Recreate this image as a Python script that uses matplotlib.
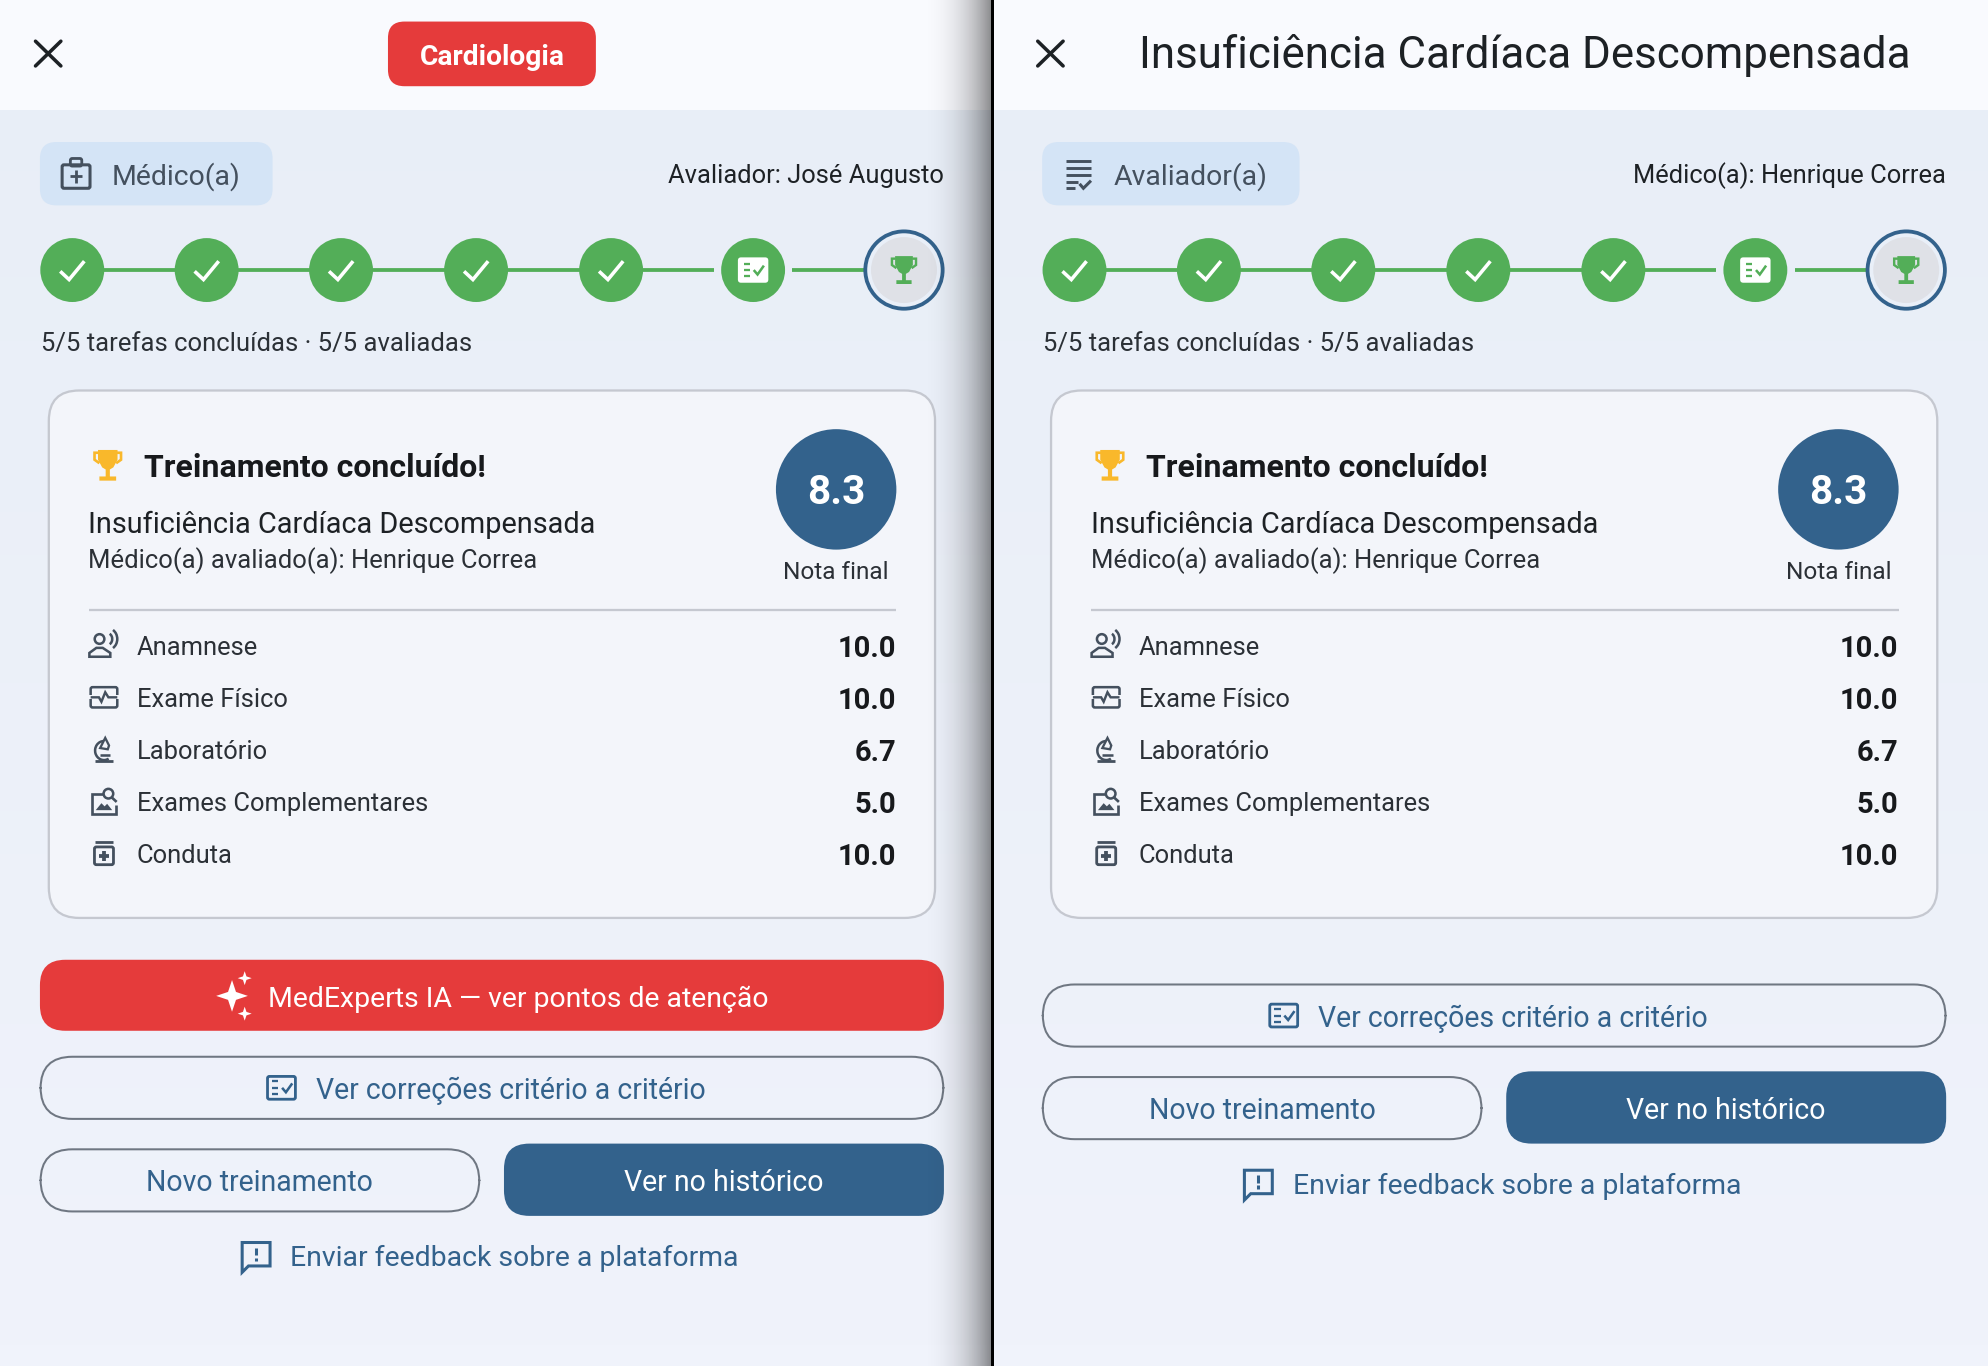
import numpy as np
import matplotlib
matplotlib.use('Agg')
import matplotlib.pyplot as plt
from matplotlib.patches import FancyBboxPatch, Circle, Polygon, Arc, Rectangle

plt.rcParams['font.family'] = ['Roboto', 'DejaVu Sans']

# coordinates below are in a 1568 wide frame, S converts to real pixels
S = 1988 / 1568
W, H = 1568, 1366 / S

RED = '#E53B3B'
BLUE = '#33628C'
GREEN = '#53AE58'
DARK = '#1D2125'
GREY = '#44505E'
OUTLINE = '#6F7782'

categories = ['Anamnese', 'Exame Físico', 'Laboratório', 'Exames Complementares', 'Conduta']
scores = ['10.0', '10.0', '6.7', '5.0', '10.0']
final_score = '8.3'
step_x = [57, 163, 269, 375.5, 482, 594, 713]
row_y = [509, 550, 591, 632, 673]
case_name = 'Insuficiência Cardíaca Descompensada'
specialty = 'Cardiologia'
doctor = 'Médico(a) avaliado(a): Henrique Correa'
progress = '5/5 tarefas concluídas · 5/5 avaliadas'

fig = plt.figure(figsize=(19.88, 13.66), dpi=100)
ax = fig.add_axes([0, 0, 1, 1])
ax.axis('off')


def px(v):
    # frame units to points
    return v * S * 0.72


def txt(x, y, s, size, color=DARK, ha='left', weight='normal'):
    ax.text(x, y, s, fontsize=px(size), color=color, ha=ha, va='center_baseline', fontweight=weight, zorder=6)


def box(x0, y0, x1, y1, r, fc='none', ec='none', lw=0, z=3):
    ax.add_patch(FancyBboxPatch((x0, y0), x1 - x0, y1 - y0, boxstyle=f'round,pad=0,rounding_size={r}',
                                fc=fc, ec=ec, lw=px(lw), zorder=z))


def line(xs, ys, color, lw=2, z=5, cap='butt'):
    ax.plot(xs, ys, color=color, lw=px(lw), zorder=z, solid_capstyle=cap, solid_joinstyle='miter')


def trophy(cx, cy, k, color):
    line([cx - 6.5 * k, cx - 9.5 * k, cx - 9.5 * k, cx - 6 * k], [cy - 9 * k, cy - 9 * k, cy - 4 * k, cy - 1.5 * k], color, 1.9 * k)
    line([cx + 6.5 * k, cx + 9.5 * k, cx + 9.5 * k, cx + 6 * k], [cy - 9 * k, cy - 9 * k, cy - 4 * k, cy - 1.5 * k], color, 1.9 * k)
    ax.add_patch(Polygon([(cx - 7 * k, cy - 11 * k), (cx + 7 * k, cy - 11 * k), (cx + 7 * k, cy - 4 * k), (cx + 4 * k, cy + 1.5 * k),
                          (cx + 1.5 * k, cy + 3 * k), (cx + 1.5 * k, cy + 8 * k), (cx + 6 * k, cy + 8 * k), (cx + 6 * k, cy + 11 * k),
                          (cx - 6 * k, cy + 11 * k), (cx - 6 * k, cy + 8 * k), (cx - 1.5 * k, cy + 8 * k), (cx - 1.5 * k, cy + 3 * k),
                          (cx - 4 * k, cy + 1.5 * k), (cx - 7 * k, cy - 4 * k)], fc=color, ec='none', zorder=5))


def fact_check(cx, cy, fg, bg, filled):
    # list with a tick inside a box
    if filled:
        box(cx - 12, cy - 10, cx + 12, cy + 10, 2.5, fc=fg, z=5)
        ink = bg
    else:
        box(cx - 11, cy - 9, cx + 11, cy + 9, 1.5, ec=fg, lw=2.2, z=5)
        ink = fg
    for dy in (-5, 0, 5):
        line([cx - 7.5, cx - 2.5], [cy + dy, cy + dy], ink, 1.8)
    line([cx + 0.5, cx + 3.5, cx + 8.5], [cy, cy + 3.5, cy - 3.5], ink, 2)


def row_icon(i, cx, cy):
    c = GREY
    if i == 0:
        ax.add_patch(Circle((cx - 3.5, cy - 5), 3.8, fc='none', ec=c, lw=px(2), zorder=5))
        ax.add_patch(Polygon([(cx - 11.5, cy + 9), (cx + 5, cy + 9), (cx + 5, cy + 6), (cx - 1, cy + 2), (cx - 6, cy + 2), (cx - 11.5, cy + 6)],
                             fc='none', ec=c, lw=px(2), zorder=5))
        ax.add_patch(Arc((cx + 3, cy - 5), 7, 9, theta1=-70, theta2=70, ec=c, lw=px(2), zorder=5))
        ax.add_patch(Arc((cx + 3, cy - 5), 15, 17, theta1=-60, theta2=60, ec=c, lw=px(2), zorder=5))
    elif i == 1:
        box(cx - 10.5, cy - 8, cx + 10.5, cy + 8, 1.5, ec=c, lw=2, z=5)
        ax.add_patch(Rectangle((cx - 13, cy - 1.5), 26, 3, fc='#F3F5FA', ec='none', zorder=5))
        line([cx - 10.5, cx - 4, cx - 2, cx + 1, cx + 3.5, cx + 10.5], [cy, cy, cy + 3.5, cy - 4, cy, cy], c, 1.9)
    elif i == 2:
        line([cx - 7, cx + 7], [cy + 9, cy + 9], c, 2.2)
        ax.add_patch(Arc((cx, cy + 1), 14, 15, theta1=60, theta2=270, ec=c, lw=px(2), zorder=5))
        ax.add_patch(Polygon([(cx - 3, cy - 1), (cx + 1, cy - 9), (cx + 4, cy - 3), (cx + 3, cy)], fc='none', ec=c, lw=px(1.8), zorder=5))
        line([cx - 3, cx + 5], [cy + 4.5, cy + 4.5], c, 2)
    elif i == 3:
        line([cx - 1, cx - 9.5, cx - 9.5, cx + 9.5, cx + 9.5], [cy - 6, cy - 6, cy + 10, cy + 10, cy + 3], c, 2.1)
        ax.add_patch(Circle((cx + 3.5, cy - 6), 3.8, fc='none', ec=c, lw=px(2), zorder=5))
        line([cx + 6.2, cx + 10], [cy - 3, cy + 0.5], c, 2.1)
        ax.add_patch(Polygon([(cx - 6.5, cy + 7), (cx - 2, cy + 1.5), (cx + 0.5, cy + 4), (cx + 2.5, cy + 2), (cx + 6.5, cy + 7)], fc=c, ec='none', zorder=5))
    else:
        line([cx - 7, cx + 7], [cy - 9, cy - 9], c, 2.2)
        box(cx - 7.5, cy - 5, cx + 7.5, cy + 9, 1.5, ec=c, lw=2.2, z=5)
        line([cx - 4, cx + 4], [cy + 2, cy + 2], c, 3)
        line([cx, cx], [cy - 2, cy + 6], c, 3)


def sparkle(cx, cy, r, color):
    q = r * 0.25
    ax.add_patch(Polygon([(cx, cy - r), (cx + q, cy - q), (cx + r, cy), (cx + q, cy + q), (cx, cy + r), (cx - q, cy + q), (cx - r, cy), (cx - q, cy - q)],
                         fc=color, ec='none', zorder=6))


def draw_panel(dx, role, role_right, chip_x1, top_y, show_red):
    # header
    x_start = 0 if dx == 0 else 784
    ax.add_patch(Rectangle((x_start, 0), 784, 87, fc='#F9FAFE', ec='none', zorder=1))
    line([dx + 28, dx + 48], [32.5, 52], DARK, 2.8, cap='round')
    line([dx + 48, dx + 28], [32.5, 52], DARK, 2.8, cap='round')

    # role chip
    box(dx + 31.5, 112, dx + chip_x1, 162, 13, fc='#D4E4F6', z=2)
    cx = dx + 60
    if role == 'Médico(a)':
        box(cx - 11, 130, cx + 11, 148.5, 1.5, ec=GREY, lw=2.4, z=5)
        box(cx - 4.5, 125, cx + 4.5, 131, 1.5, ec=GREY, lw=2.2, z=5)
        line([cx - 5, cx + 5], [139, 139], GREY, 2.2)
        line([cx, cx], [134, 144], GREY, 2.2)
    else:
        for yy in (127, 132.5, 138):
            line([cx - 10, cx + 10], [yy, yy], GREY, 2.3)
        line([cx - 10, cx + 0], [143.5, 143.5], GREY, 2.3)
        line([cx - 10, cx - 3], [148.5, 148.5], GREY, 2.3)
        line([cx + 1, cx + 4, cx + 10], [145, 148.5, 142.5], GREY, 2.4)
    txt(dx + 88, 137, role, 22.4, GREY)
    txt(dx + 744.5, 136.5, role_right, 20.1, DARK, ha='right')

    # stepper
    for a, b in zip(step_x[:4], step_x[1:5]):
        line([dx + a, dx + b], [213, 213], GREEN, 3, z=3)
    line([dx + step_x[4], dx + 563], [213, 213], GREEN, 3, z=3)
    line([dx + 625, dx + 682], [213, 213], GREEN, 3, z=3)
    for sx in step_x[:6]:
        ax.add_patch(Circle((dx + sx, 213), 25.2, fc=GREEN, ec='none', zorder=4))
    for sx in step_x[:5]:
        line([dx + sx - 9.5, dx + sx - 2.5, dx + sx + 9.5], [214, 220.5, 206], 'white', 2.8)
    fact_check(dx + step_x[5], 213, 'white', GREEN, True)
    ax.add_patch(Circle((dx + step_x[6], 213), 30.5, fc='#E9EFF8', ec=BLUE, lw=px(3), zorder=4))
    ax.add_patch(Circle((dx + step_x[6], 213), 26, fc='#DFE1E7', ec='none', zorder=4))
    trophy(dx + step_x[6], 213, 1.0, GREEN)
    txt(dx + 32, 269, progress, 20.2, '#2B3036')

    # result card
    box(dx + 38.5, 308, dx + 737.5, 724, 24, fc='#F3F5FA', ec='#C5C8D0', lw=1.8, z=2)
    trophy(dx + 85, 367, 1.1, '#F9B82B')
    txt(dx + 113.5, 366.5, 'Treinamento concluído!', 25.2, '#17191C', weight='bold')
    txt(dx + 69.7, 412, case_name, 22.8, DARK)
    txt(dx + 69.7, 439.5, doctor, 20.2, '#2B3036')
    ax.add_patch(Circle((dx + 659.5, 386), 47.5, fc=BLUE, ec='none', zorder=4))
    txt(dx + 659.5, 386, final_score, 32, 'white', ha='center', weight='bold')
    txt(dx + 659.5, 449.5, 'Nota final', 19.2, '#2B3036', ha='center')
    line([dx + 70, dx + 707], [481.5, 481.5], '#C5C8D0', 1.8, z=3)
    for i, (name, val, ry) in enumerate(zip(categories, scores, row_y)):
        row_icon(i, dx + 82, ry)
        txt(dx + 107.7, ry, name, 20.1, '#2B3036')
        txt(dx + 707, ry + 0.5, val, 23, '#17191C', ha='right', weight='bold')

    # buttons
    y = top_y
    if show_red:
        box(dx + 31.5, y, dx + 744.5, y + 56, 20, fc=RED, z=3)
        sparkle(dx + 183, y + 28.5, 12.5, 'white')
        sparkle(dx + 193, y + 14.5, 5.5, 'white')
        sparkle(dx + 193, y + 42.5, 5.5, 'white')
        txt(dx + 211, y + 28.5, 'MedExperts IA — ver pontos de atenção', 22.4, 'white')
        y += 76
    box(dx + 32, y + 0.5, dx + 744, y + 49.5, 25, ec=OUTLINE, lw=1.6, z=3)
    fact_check(dx + 222, y + 25, BLUE, '#F0F3FB', False)
    txt(dx + 249, y + 25, 'Ver correções critério a critério', 22.5, BLUE)
    y2 = y + 73
    box(dx + 32, y2 + 0.5, dx + 378, y2 + 49.5, 25, ec=OUTLINE, lw=1.6, z=3)
    txt(dx + 205, y2 + 25, 'Novo treinamento', 22.5, BLUE, ha='center')
    box(dx + 397.5, y2 - 4, dx + 744.5, y2 + 53, 20, fc=BLUE, z=3)
    txt(dx + 571, y2 + 25, 'Ver no histórico', 22.5, 'white', ha='center')
    y3 = y2 + 84.5
    ax.add_patch(Polygon([(dx + 191, y3 - 10.5), (dx + 213, y3 - 10.5), (dx + 213, y3 + 8), (dx + 196, y3 + 8), (dx + 191, y3 + 13)],
                         fc='none', ec=BLUE, lw=px(2.4), zorder=5))
    line([dx + 202, dx + 202], [y3 - 6.5, y3 - 0.5], BLUE, 2.4)
    line([dx + 202, dx + 202], [y3 + 1.5, y3 + 4], BLUE, 2.4)
    txt(dx + 229, y3, 'Enviar feedback sobre a plataforma', 22.4, BLUE)


# page background, a faint vertical wash
wash = np.linspace(0, 1, 64)[:, None, None] * (np.array([240, 243, 251]) - np.array([232, 238, 247])) + np.array([232, 238, 247])
ax.imshow(wash / 255, extent=[0, W, H, 0], aspect='auto', zorder=0)

draw_panel(0, 'Médico(a)', 'Avaliador: José Augusto', 215, 757, True)
box(306, 17, 470, 68, 13, fc=RED, z=3)
txt(388, 43, specialty, 22.2, 'white', ha='center', weight='bold')

draw_panel(790.5, 'Avaliador(a)', 'Médico(a): Henrique Correa', 234.5, 776, False)
txt(898, 40.5, case_name, 34.6, DARK)

# side shadow of the left page and the divider
t = np.linspace(0, 1, 128)
shade = np.zeros((1, 128, 4))
shade[0, :, 3] = 0.45 * t ** 2.6
ax.imshow(shade, extent=[722, 782, H, 0], aspect='auto', zorder=7)
ax.add_patch(Rectangle((782, 0), 2, H, fc='black', ec='none', zorder=8))

ax.set_xlim(0, W)
ax.set_ylim(H, 0)
fig.savefig('out.png', dpi=100)
